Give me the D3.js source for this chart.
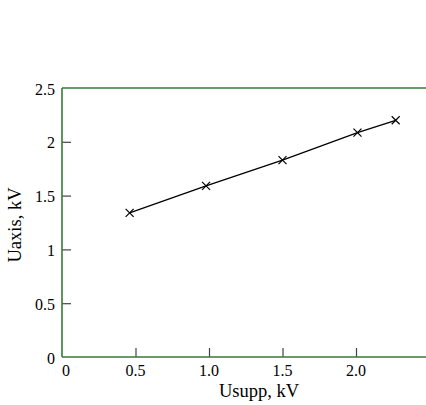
<!DOCTYPE html>
<html>
<head>
<meta charset="utf-8">
<script src="https://cdn.jsdelivr.net/npm/d3@7"></script>
<style>
  html, body { margin: 0; padding: 0; background: #fff; }
  svg { display: block; }
  text { font-family: "Liberation Serif", "Times New Roman", serif; fill: #000; }
</style>
</head>
<body>
<svg id="chart" width="426" height="405"></svg>
<script>
// Measured supply voltage vs. axis voltage
const usupp = [0.46, 0.98, 1.50, 2.01, 2.27];
const uaxis = [1.34, 1.59, 1.83, 2.085, 2.20];
const xTicks = [0, 0.5, 1.0, 1.5, 2.0];
const yTicks = [0, 0.5, 1, 1.5, 2, 2.5];
const xTitle = "Usupp, kV";
const yTitle = "Uaxis, kV";

const plotL = 62, plotT = 88, plotB = 357, plotR = 426;
const frameColor = "#367a36";

const svg = d3.select("#chart");

const x = d3.scaleLinear().domain([0, (plotR - plotL) / 147]).range([plotL, plotR]);
const y = d3.scaleLinear().domain([0, 2.5]).range([plotB, plotT]);

// Ticks drawn inward from the frame
const xAxis = d3.axisTop(x).tickValues(xTicks.slice(1)).tickSize(9).tickFormat("");
const yAxis = d3.axisRight(y).tickValues(yTicks.slice(1, -1)).tickSize(9).tickFormat("");

svg.append("g").attr("transform", `translate(0,${plotB})`).call(xAxis)
  .call(g => g.select(".domain").remove())
  .call(g => g.selectAll("line").attr("stroke", "#444").attr("stroke-width", 1.2));
svg.append("g").attr("transform", `translate(${plotL},0)`).call(yAxis)
  .call(g => g.select(".domain").remove())
  .call(g => g.selectAll("line").attr("stroke", "#444").attr("stroke-width", 1.2));

// Frame: left, top and bottom edges
const frame = svg.append("g").attr("stroke", frameColor).attr("stroke-width", 1.6).attr("fill", "none");
frame.append("line").attr("x1", plotL).attr("x2", plotL).attr("y1", plotT).attr("y2", plotB);
frame.append("line").attr("x1", plotL).attr("x2", plotR).attr("y1", plotT).attr("y2", plotT);
frame.append("line").attr("x1", plotL).attr("x2", plotR).attr("y1", plotB).attr("y2", plotB);

// Tick labels
svg.append("g").selectAll("text").data(xTicks).join("text")
  .attr("x", d => x(d) + (d === 0 ? 4 : 0))
  .attr("y", plotB + 19)
  .attr("text-anchor", "middle")
  .attr("font-size", 16)
  .text(d => d === 0 ? "0" : d3.format(".1f")(d));

svg.append("g").selectAll("text").data(yTicks).join("text")
  .attr("x", plotL - 7)
  .attr("y", d => y(d) + 6.5)
  .attr("text-anchor", "end")
  .attr("font-size", 16)
  .text(d => String(d));

// Axis titles
svg.append("text")
  .attr("x", 259)
  .attr("y", 397)
  .attr("text-anchor", "middle")
  .attr("font-size", 18.5)
  .text(xTitle);

svg.append("text")
  .attr("transform", `translate(21,225) rotate(-90)`)
  .attr("text-anchor", "middle")
  .attr("font-size", 18.5)
  .text(yTitle);

// Data line and cross markers
const pts = usupp.map((v, i) => [v, uaxis[i]]);
svg.append("path")
  .datum(pts)
  .attr("fill", "none")
  .attr("stroke", "#000")
  .attr("stroke-width", 1.3)
  .attr("d", d3.line().x(d => x(d[0])).y(d => y(d[1])));

svg.append("g").selectAll("path").data(pts).join("path")
  .attr("transform", d => `translate(${x(d[0])},${y(d[1])})`)
  .attr("d", "M-4,-4L4,4M-4,4L4,-4")
  .attr("stroke", "#000")
  .attr("stroke-width", 1.2)
  .attr("fill", "none");
</script>
</body>
</html>
